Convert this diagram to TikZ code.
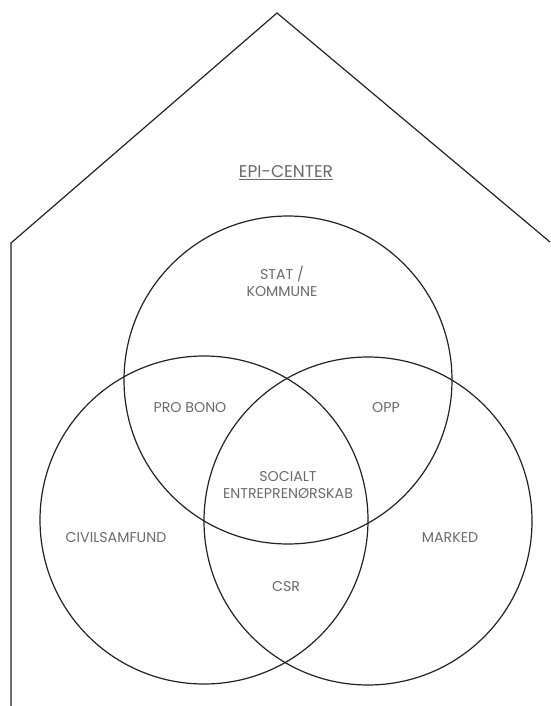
\documentclass[tikz,border=0pt]{standalone}
\usepackage{fontspec}
\setmainfont{Poppins}
\usepackage{tikz}
\definecolor{linegray}{HTML}{222222}
\definecolor{textgray}{HTML}{6A6A6A}
\tikzstyle{set}=[circle,draw=linegray,line width=1.2pt,minimum size=328pt,inner sep=0pt]
\tikzstyle{wall}=[draw=linegray,line width=1.2pt]
\tikzstyle{label}=[text=textgray,align=center,inner sep=1pt,font=\fontsize{14.2}{17}\selectfont]

\begin{document}
\begin{tikzpicture}[x=1pt,y=-1pt]
        \useasboundingbox (0,0) rectangle (550,706);
        % house outline
        \coordinate (apex) at (277,13);
        \coordinate (eaveL) at (11,243);
        \coordinate (eaveR) at (550,242);
        \coordinate (foot) at (11,706);
        \path[wall] (foot) -- (eaveL) -- (apex) -- (eaveR);
        % the three sets
        \node[set] (stat) at (288,380) {};
        \node[set] (civil) at (204,520) {};
        \node[set] (marked) at (368,521) {};
        % labels
        \node[label,font=\fontsize{17}{20}\selectfont] (epi) at (286,173) {\underline{EPI-CENTER}};
        \node[label] (statlbl) at (282,281) {STAT /\\KOMMUNE};
        \node[label] (probono) at (190,408) {PRO BONO};
        \node[label] (opp) at (386,408) {OPP};
        \node[label] (social) at (288,485) {SOCIALT\\ENTREPRENØRSKAB};
        \node[label] (civillbl) at (116,538) {CIVILSAMFUND};
        \node[label] (markedlbl) at (450,538) {MARKED};
        \node[label] (csr) at (286,587) {CSR};
    \end{tikzpicture}
\end{document}
